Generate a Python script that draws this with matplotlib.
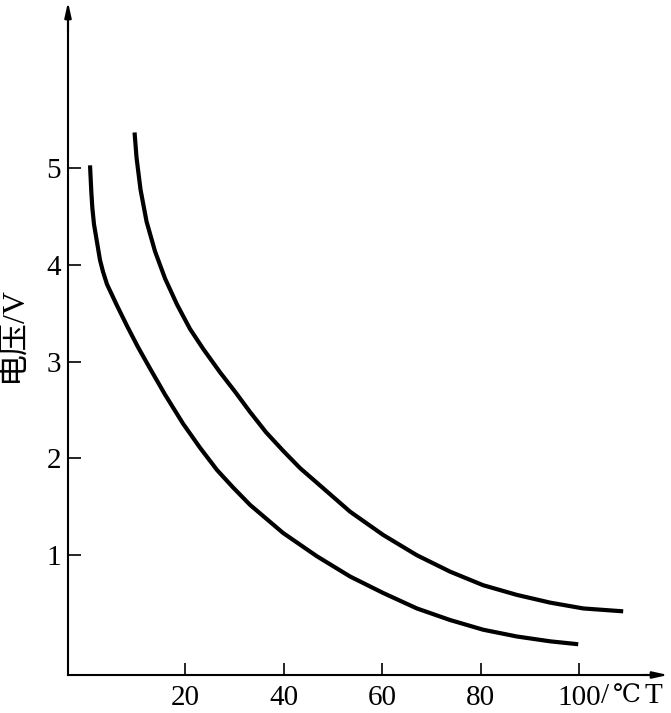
import matplotlib
matplotlib.use("Agg")
import matplotlib.pyplot as plt

# lower curve
t_low = [0.71, 0.97, 1.18, 1.52, 2.74, 3.35, 4.16, 6.19, 8.22, 10.46, 12.89,
         15.94, 19.59, 23.05, 26.50, 29.75, 33.20, 39.90, 46.74, 53.50,
         60.20, 67.05, 73.81, 80.51, 87.35, 94.11, 99.80]
v_low = [5.03, 4.76, 4.59, 4.42, 4.05, 3.93, 3.80, 3.58, 3.37, 3.15, 2.93,
         2.66, 2.36, 2.11, 1.88, 1.70, 1.52, 1.23, 0.99, 0.78,
         0.61, 0.45, 0.33, 0.23, 0.16, 0.11, 0.08]

# upper curve
t_high = [9.75, 10.15, 10.96, 12.18, 13.91, 15.94, 18.38, 20.99, 23.72,
          27.11, 30.15, 33.20, 36.45, 39.90, 43.35, 46.74, 53.50, 60.20,
          67.05, 73.81, 80.51, 87.35, 94.11, 100.81, 108.93]
v_high = [5.37, 5.11, 4.78, 4.45, 4.14, 3.86, 3.59, 3.34, 3.13,
          2.89, 2.69, 2.48, 2.27, 2.08, 1.90, 1.75, 1.45, 1.21,
          1.00, 0.83, 0.69, 0.59, 0.51, 0.45, 0.42]

x_ticks = [20, 40, 60, 80, 100]
y_ticks = [1, 2, 3, 4, 5]

plt.rcParams['font.family'] = ['Liberation Serif', 'DejaVu Serif', 'Noto Sans CJK SC']

fig = plt.figure(figsize=(6.71, 7.13), dpi=100)
W, H = 671, 713
ax = fig.add_axes([68 / W, 38 / H, (660 - 68) / W, (675 - 12) / H])

for t, v in [(t_low, v_low), (t_high, v_high)]:
    ax.plot(t, v, color='black', lw=3, solid_capstyle='butt',
            solid_joinstyle='round')

ax.set_xlim(-3.76, 116.4)
ax.set_ylim(-0.238, 6.615)

for s in ['top', 'right']:
    ax.spines[s].set_visible(False)
for s in ['left', 'bottom']:
    ax.spines[s].set_linewidth(1.5)

ax.set_xticks(x_ticks)
ax.set_xticklabels([str(v) for v in x_ticks])
ax.set_yticks(y_ticks)
ax.tick_params(direction='in', length=9, width=1.2, labelsize=21)
ax.tick_params(axis='x', pad=7)
ax.tick_params(axis='y', pad=5)

# arrow heads on the axes
head = dict(arrowstyle='-|>,head_length=0.9,head_width=0.2',
            color='black', lw=1.5, shrinkA=0, shrinkB=0)
ax.annotate('', xy=(1.0 + 8 / 592, 0), xytext=(0.97, 0),
            xycoords='axes fraction', arrowprops=head)
ax.annotate('', xy=(0, 1.0 + 10 / 663), xytext=(0, 0.97),
            xycoords='axes fraction', arrowprops=head)

# unit after the 100 tick, and the axis name
ax.text(104.5, -0.455, '/', fontsize=21, ha='left', va='center')
ax.text(106.8, -0.455, '℃', fontsize=18, ha='left', va='center',
        family=['DejaVu Serif'])
ax.text(113.3, -0.455, 'T', fontsize=21, ha='left', va='center')

fig.text(14 / W, 1 - 334 / H, '电压/V', fontsize=23, rotation=90,
         ha='center', va='center',
         family=['Liberation Serif', 'Noto Sans CJK SC'])

fig.savefig('out.png', dpi=100)
